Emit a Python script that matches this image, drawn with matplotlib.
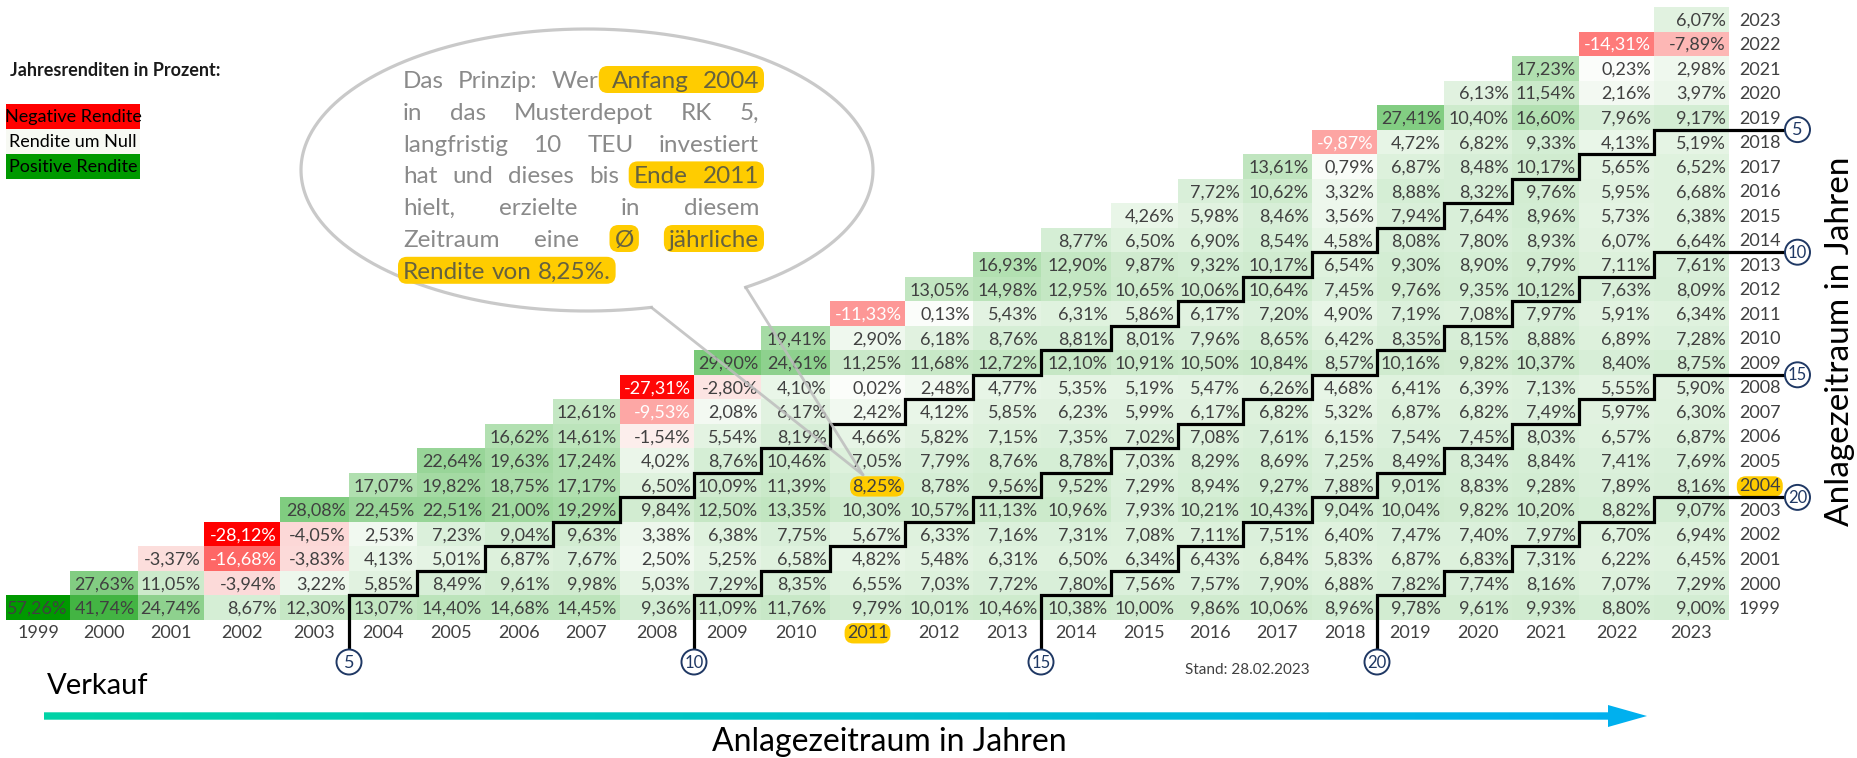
import numpy as np
import matplotlib
matplotlib.use("Agg")
import matplotlib.pyplot as plt
from matplotlib.colors import LinearSegmentedColormap, TwoSlopeNorm
from matplotlib.patches import Rectangle, Ellipse, Circle, FancyBboxPatch, Polygon

plt.rcParams['font.family'] = ['Lato', 'DejaVu Sans']

# ---------------- data ----------------
sell_years = [1999, 2000, 2001, 2002, 2003, 2004, 2005, 2006, 2007, 2008, 2009, 2010,
              2011, 2012, 2013, 2014, 2015, 2016, 2017, 2018, 2019, 2020, 2021, 2022, 2023]
start_years = list(sell_years)

ret_1999 = [57.26, 41.74, 24.74, 8.67, 12.30, 13.07, 14.40, 14.68, 14.45, 9.36, 11.09, 11.76, 9.79,
            10.01, 10.46, 10.38, 10.00, 9.86, 10.06, 8.96, 9.78, 9.61, 9.93, 8.80, 9.00]
ret_2000 = [27.63, 11.05, -3.94, 3.22, 5.85, 8.49, 9.61, 9.98, 5.03, 7.29, 8.35, 6.55, 7.03, 7.72,
            7.80, 7.56, 7.57, 7.90, 6.88, 7.82, 7.74, 8.16, 7.07, 7.29]
ret_2001 = [-3.37, -16.68, -3.83, 4.13, 5.01, 6.87, 7.67, 2.50, 5.25, 6.58, 4.82, 5.48, 6.31, 6.50,
            6.34, 6.43, 6.84, 5.83, 6.87, 6.83, 7.31, 6.22, 6.45]
ret_2002 = [-28.12, -4.05, 2.53, 7.23, 9.04, 9.63, 3.38, 6.38, 7.75, 5.67, 6.33, 7.16, 7.31, 7.08,
            7.11, 7.51, 6.40, 7.47, 7.40, 7.97, 6.70, 6.94]
ret_2003 = [28.08, 22.45, 22.51, 21.00, 19.29, 9.84, 12.50, 13.35, 10.30, 10.57, 11.13, 10.96, 7.93,
            10.21, 10.43, 9.04, 10.04, 9.82, 10.20, 8.82, 9.07]
ret_2004 = [17.07, 19.82, 18.75, 17.17, 6.50, 10.09, 11.39, 8.25, 8.78, 9.56, 9.52, 7.29, 8.94, 9.27,
            7.88, 9.01, 8.83, 9.28, 7.89, 8.16]
ret_2005 = [22.64, 19.63, 17.24, 4.02, 8.76, 10.46, 7.05, 7.79, 8.76, 8.78, 7.03, 8.29, 8.69, 7.25,
            8.49, 8.34, 8.84, 7.41, 7.69]
ret_2006 = [16.62, 14.61, -1.54, 5.54, 8.19, 4.66, 5.82, 7.15, 7.35, 7.02, 7.08, 7.61, 6.15, 7.54,
            7.45, 8.03, 6.57, 6.87]
ret_2007 = [12.61, -9.53, 2.08, 6.17, 2.42, 4.12, 5.85, 6.23, 5.99, 6.17, 6.82, 5.32, 6.87, 6.82,
            7.49, 5.97, 6.30]
ret_2008 = [-27.31, -2.80, 4.10, 0.02, 2.48, 4.77, 5.35, 5.19, 5.47, 6.26, 4.68, 6.41, 6.39, 7.13,
            5.55, 5.90]
ret_2009 = [29.90, 24.61, 11.25, 11.68, 12.72, 12.10, 10.91, 10.50, 10.84, 8.57, 10.16, 9.82, 10.37,
            8.40, 8.75]
ret_2010 = [19.41, 2.90, 6.18, 8.76, 8.81, 8.01, 7.96, 8.65, 6.42, 8.35, 8.15, 8.88, 6.89, 7.28]
ret_2011 = [-11.33, 0.13, 5.43, 6.31, 5.86, 6.17, 7.20, 4.90, 7.19, 7.08, 7.97, 5.91, 6.34]
ret_2012 = [13.05, 14.98, 12.95, 10.65, 10.06, 10.64, 7.45, 9.76, 9.35, 10.12, 7.63, 8.09]
ret_2013 = [16.93, 12.90, 9.87, 9.32, 10.17, 6.54, 9.30, 8.90, 9.79, 7.11, 7.61]
ret_2014 = [8.77, 6.50, 6.90, 8.54, 4.58, 8.08, 7.80, 8.93, 6.07, 6.64]
ret_2015 = [4.26, 5.98, 8.46, 3.56, 7.94, 7.64, 8.96, 5.73, 6.38]
ret_2016 = [7.72, 10.62, 3.32, 8.88, 8.32, 9.76, 5.95, 6.68]
ret_2017 = [13.61, 0.79, 6.87, 8.48, 10.17, 5.65, 6.52]
ret_2018 = [-9.87, 4.72, 6.82, 9.33, 4.13, 5.19]
ret_2019 = [27.41, 10.40, 16.60, 7.96, 9.17]
ret_2020 = [6.13, 11.54, 2.16, 3.97]
ret_2021 = [17.23, 0.23, 2.98]
ret_2022 = [-14.31, -7.89]
ret_2023 = [6.07]

returns_by_start = {
    1999: ret_1999, 2000: ret_2000, 2001: ret_2001, 2002: ret_2002, 2003: ret_2003,
    2004: ret_2004, 2005: ret_2005, 2006: ret_2006, 2007: ret_2007, 2008: ret_2008,
    2009: ret_2009, 2010: ret_2010, 2011: ret_2011, 2012: ret_2012, 2013: ret_2013,
    2014: ret_2014, 2015: ret_2015, 2016: ret_2016, 2017: ret_2017, 2018: ret_2018,
    2019: ret_2019, 2020: ret_2020, 2021: ret_2021, 2022: ret_2022, 2023: ret_2023,
}

holding_periods = [5, 10, 15, 20]
example_start, example_sell = 2004, 2011
legend_title = "Jahresrenditen in Prozent:"
legend_labels = ["Negative Rendite", "Rendite um Null", "Positive Rendite"]
legend_colors = ["#FF0000", "#F7F9F3", "#009900"]
bubble_lines = [
    "Das Prinzip: Wer Anfang 2004",
    "in das Musterdepot RK 5,",
    "langfristig 10 TEU investiert",
    "hat und dieses bis Ende 2011",
    "hielt, erzielte in diesem",
    "Zeitraum eine Ø jährliche",
    "Rendite von 8,25%.",
]
# (line index, first word, last word) highlighted
bubble_highlights = [(0, 3, 4), (3, 4, 5), (5, 2, 2), (5, 3, 3), (6, 0, 2)]

# ---------------- layout ----------------
W, H = 1858, 758
fig = plt.figure(figsize=(W / 100, H / 100), dpi=100)
ax = fig.add_axes([0, 0, 1, 1])
ax.axis('off')

col_w = [64, 68, 66, 76, 69, 68, 68, 68, 67, 74, 67, 69, 75, 68, 68, 70, 67, 65, 69, 65, 67, 68, 67, 75, 75]
X0, Y0, RH = 6, 7, 24.52
n = len(sell_years)
x_edges = np.concatenate([[X0], X0 + np.cumsum(col_w)])
rows_desc = start_years[::-1]            # top row = latest start year
y_edges = Y0 + RH * np.arange(n + 1)
table_bottom = y_edges[-1]
table_right = x_edges[-1]

Z = np.full((n, n), np.nan)
for s, vals in returns_by_start.items():
    i = rows_desc.index(s)
    j0 = sell_years.index(s)
    for k, v in enumerate(vals):
        Z[i, j0 + k] = v

cmap = LinearSegmentedColormap.from_list('rg', ['#FF0000', '#FCFDFB', '#009900'])
norm = TwoSlopeNorm(vmin=np.nanmin(Z), vcenter=0.0, vmax=np.nanmax(Z))
ax.pcolormesh(x_edges, y_edges, np.ma.masked_invalid(Z), cmap=cmap, norm=norm,
              shading='flat', antialiased=False, linewidth=0, zorder=1)

txt_col = '#404040'
yellow = '#FFCC00'
CELL_FS = 13
base_off = 6.3

for i in range(n):
    for j in range(n):
        v = Z[i, j]
        if np.isnan(v):
            continue
        yc = (y_edges[i] + y_edges[i + 1]) / 2
        s = f"{v:.2f}".replace('.', ',') + '%'
        kw = {}
        if rows_desc[i] == example_start and sell_years[j] == example_sell:
            kw['bbox'] = dict(boxstyle='round,pad=0.12,rounding_size=0.5', fc=yellow, ec='none')
        ax.text(x_edges[j + 1] - 3, yc + base_off, s, ha='right', va='baseline',
                fontsize=CELL_FS, color='white' if v < -9 else txt_col, zorder=2, **kw)

# column labels (sell year)
for j, yr in enumerate(sell_years):
    kw = {}
    if yr == example_sell:
        kw['bbox'] = dict(boxstyle='round,pad=0.12,rounding_size=0.5', fc=yellow, ec='none')
    ax.text((x_edges[j] + x_edges[j + 1]) / 2, 632 + base_off, str(yr), ha='center',
            va='baseline', fontsize=CELL_FS, color=txt_col, zorder=2, **kw)

# row labels (start year)
for i, yr in enumerate(rows_desc):
    kw = {}
    if yr == example_start:
        kw['bbox'] = dict(boxstyle='round,pad=0.12,rounding_size=0.5', fc=yellow, ec='none')
    ax.text(table_right + 10, (y_edges[i] + y_edges[i + 1]) / 2 + base_off, str(yr),
            ha='left', va='baseline', fontsize=CELL_FS, color=txt_col, zorder=2, **kw)


def x_right(year):
    return x_edges[sell_years.index(year) + 1]


def row_top(s):
    return y_edges[rows_desc.index(s)]


navy = '#1F3864'
line_end_x = 1785
circ_r = 12.5
for p in holding_periods:
    x_first = x_right(sell_years[0] + p - 1)
    xs, ys = [x_first], [table_bottom + 30]
    last = sell_years[-1] - p
    for s in range(start_years[0], last + 1):
        xr = x_right(s + p - 1)
        xs.append(xr); ys.append(row_top(s))
        xs.append(x_right(s + p) if s < last else line_end_x); ys.append(row_top(s))
    ax.plot(xs, ys, color='black', lw=2.3, solid_joinstyle='miter', solid_capstyle='butt', zorder=3)
    # circles with numbers
    for (cx_, cy_) in [(x_first, table_bottom + 42), (line_end_x + circ_r, row_top(last))]:
        ax.add_patch(Circle((cx_, cy_), circ_r, fc='white', ec=navy, lw=1.4, zorder=4))
        ax.text(cx_, cy_ + 0.5, str(p), ha='center', va='center', fontsize=13 if p < 10 else 12,
                color=navy, zorder=5)

# ---------------- legend ----------------
ax.text(10, 70, legend_title, ha='left', va='center', fontsize=13, fontweight='bold', color='#1A1A1A')
leg_y = [104, 129, 153.5, 179]
for k, (lab, c) in enumerate(zip(legend_labels, legend_colors)):
    ax.add_patch(Rectangle((6, leg_y[k]), 134, leg_y[k + 1] - leg_y[k], fc=c, ec='none', zorder=2))
    ax.text(73, (leg_y[k] + leg_y[k + 1]) / 2 + 0.5, lab, ha='center', va='center', fontsize=13,
            color='black', zorder=3)

# ---------------- speech bubble ----------------
bcx, bcy, ba, bb = 587, 170, 286, 141
ax.add_patch(Ellipse((bcx, bcy), 2 * ba, 2 * bb, fc='white', ec='none', zorder=5))
t1, t2 = 77.0, 56.3
tt = np.radians(np.linspace(t1, t2 + 360, 500))
ax.plot(bcx + ba * np.cos(tt), bcy + bb * np.sin(tt), color='#C9C9C9', lw=2.3, zorder=6)
tip_x = x_edges[sell_years.index(example_sell)] + 33
tip_y = row_top(example_start) + 2
for td in (t1, t2):
    r = np.radians(td)
    ax.plot([bcx + ba * np.cos(r), tip_x], [bcy + bb * np.sin(r), tip_y], color='#BDBDBD',
            lw=2.0, alpha=0.85, zorder=6, solid_capstyle='round')

renderer = fig.canvas.get_renderer()
bx0, bx1 = 403, 759
base0, lsp = 88, 31.8
BFS = 17.5
gray = '#8A8A8A'
words_objs = []
for li, line in enumerate(bubble_lines):
    words = line.split(' ')
    objs = [ax.text(0, 0, w, fontsize=BFS, fontweight='normal', color=gray, ha='left',
                    va='baseline', zorder=8) for w in words]
    widths = [o.get_window_extent(renderer).width for o in objs]
    if li < len(bubble_lines) - 1 and len(words) > 1:
        gap = (bx1 - bx0 - sum(widths)) / (len(words) - 1)
    else:
        sp = ax.text(0, 0, 'a a', fontsize=BFS)
        sp2 = ax.text(0, 0, 'aa', fontsize=BFS)
        gap = sp.get_window_extent(renderer).width - sp2.get_window_extent(renderer).width
        sp.remove(); sp2.remove()
    x = bx0
    base = base0 + li * lsp
    pos = []
    for o, w in zip(objs, widths):
        o.set_position((x, base))
        pos.append((x, x + w))
        x += w + gap
    words_objs.append((objs, pos, base))

for (li, a0, a1) in bubble_highlights:
    objs, pos, base = words_objs[li]
    left_pad = 13 if (li == 0) else 5
    x0 = pos[a0][0] - left_pad
    x1 = pos[a1][1] + 5
    ax.add_patch(FancyBboxPatch((x0, base - 22), x1 - x0, 27,
                                boxstyle='round,pad=0,rounding_size=9', fc=yellow, ec='none', zorder=7))
    for o in objs[a0:a1 + 1]:
        o.set_color('#66623F')

# ---------------- arrow & axis texts ----------------
arrow_cmap = LinearSegmentedColormap.from_list('arr', ['#00D3A6', '#00B0F0'])
grad = np.linspace(0, 1, 256).reshape(1, -1)
ax_l, ax_r, head_b = 44, 1647, 1608
ym = 716
im = ax.imshow(grad, cmap=arrow_cmap, extent=(ax_l, ax_r, ym + 12, ym - 12), aspect='auto', zorder=2)
poly = Polygon([(ax_l, ym - 3.7), (head_b, ym - 3.7), (head_b, ym - 11), (ax_r, ym),
                (head_b, ym + 11), (head_b, ym + 3.7), (ax_l, ym + 3.7)], closed=True,
               transform=ax.transData, fc='none', ec='none')
ax.add_patch(poly)
im.set_clip_path(poly)

ax.text(47, 686, 'Verkauf', ha='left', va='center', fontsize=21, color='black')
ax.text(889, 742, 'Anlagezeitraum in Jahren', ha='center', va='center', fontsize=23, color='black')
ax.text(1840, 341, 'Anlagezeitraum in Jahren', ha='center', va='center', fontsize=24,
        rotation=90, color='black')
ax.text(1185, 670, 'Stand: 28.02.2023', ha='left', va='center', fontsize=11, color=txt_col)

ax.set_xlim(0, W)
ax.set_ylim(H, 0)
fig.savefig('out.png', dpi=100, facecolor='white')
